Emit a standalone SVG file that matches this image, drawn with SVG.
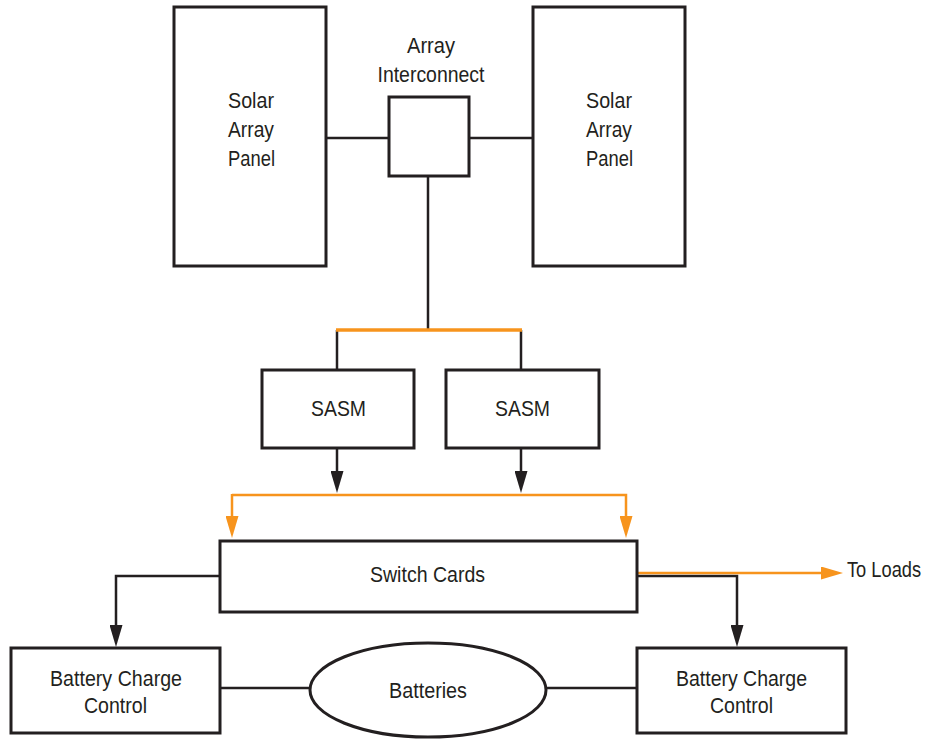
<svg xmlns="http://www.w3.org/2000/svg" width="930" height="740" viewBox="0 0 930 740">
  <style>
    .box { fill: #ffffff; stroke: #231f20; stroke-width: 3; }
    .wire { fill: none; stroke: #231f20; stroke-width: 2.5; }
    .bus { fill: none; stroke: #f7941d; stroke-width: 2.5; }
    .label { font-family: "Liberation Sans", Arial, sans-serif; font-size: 22px; fill: #231f20; text-anchor: middle; }
  </style>
  <defs>
    <marker id="arrow-dark" markerUnits="userSpaceOnUse" markerWidth="22" markerHeight="13" viewBox="0 0 22 13" refX="14" refY="6.5" orient="auto">
      <path d="M0,0 L22,6.5 L0,13 Z" fill="#231f20"/>
    </marker>
    <marker id="arrow-orange" markerUnits="userSpaceOnUse" markerWidth="22" markerHeight="13" viewBox="0 0 22 13" refX="14" refY="6.5" orient="auto">
      <path d="M0,0 L22,6.5 L0,13 Z" fill="#f7941d"/>
    </marker>
  </defs>

  <rect width="930" height="740" fill="#ffffff"/>

  <!-- connectors -->
  <g id="connectors">
    <line class="wire" x1="327" y1="138" x2="389" y2="138"/>
    <line class="wire" x1="469" y1="138" x2="533" y2="138"/>
    <line class="wire" x1="428" y1="176" x2="428" y2="330"/>
    <line class="wire" x1="337" y1="330" x2="337" y2="370"/>
    <line class="wire" x1="521" y1="330" x2="521" y2="370"/>
    <line class="bus" x1="336" y1="330" x2="522" y2="330" style="stroke-width:3.5"/>
    <line class="wire" x1="337" y1="448" x2="337" y2="485" marker-end="url(#arrow-dark)"/>
    <line class="wire" x1="521" y1="448" x2="521" y2="485" marker-end="url(#arrow-dark)"/>
    <path class="bus" d="M232,495 H626 V530" marker-end="url(#arrow-orange)"/>
    <line class="bus" x1="232" y1="494" x2="232" y2="530" marker-end="url(#arrow-orange)"/>
    <path class="wire" d="M220,576 H116 V639" marker-end="url(#arrow-dark)"/>
    <path class="wire" d="M637,576 H737 V639" marker-end="url(#arrow-dark)"/>
    <line class="bus" x1="637" y1="573" x2="835" y2="573" marker-end="url(#arrow-orange)"/>
    <line class="wire" x1="220" y1="688" x2="310" y2="688"/>
    <line class="wire" x1="546" y1="688" x2="637" y2="688"/>
  </g>

  <g id="solar-left">
    <rect class="box" x="174" y="7" width="152" height="259"/>
    <text class="label" x="251" y="108" textLength="46" lengthAdjust="spacingAndGlyphs">Solar</text>
    <text class="label" x="251" y="137" textLength="46" lengthAdjust="spacingAndGlyphs">Array</text>
    <text class="label" x="251.5" y="166" textLength="47" lengthAdjust="spacingAndGlyphs">Panel</text>
  </g>

  <g id="solar-right">
    <rect class="box" x="533" y="7" width="152" height="259"/>
    <text class="label" x="609" y="108" textLength="46" lengthAdjust="spacingAndGlyphs">Solar</text>
    <text class="label" x="609" y="137" textLength="46" lengthAdjust="spacingAndGlyphs">Array</text>
    <text class="label" x="609.5" y="166" textLength="47" lengthAdjust="spacingAndGlyphs">Panel</text>
  </g>

  <g id="array-interconnect">
    <rect class="box" x="389" y="97" width="80" height="79"/>
    <text class="label" x="431" y="53" textLength="48" lengthAdjust="spacingAndGlyphs">Array</text>
    <text class="label" x="431" y="82" textLength="107" lengthAdjust="spacingAndGlyphs">Interconnect</text>
  </g>

  <g id="sasm-left">
    <rect class="box" x="262" y="370" width="152" height="78"/>
    <text class="label" x="338.5" y="416" textLength="55" lengthAdjust="spacingAndGlyphs">SASM</text>
  </g>

  <g id="sasm-right">
    <rect class="box" x="446" y="370" width="153" height="78"/>
    <text class="label" x="522.5" y="416" textLength="55" lengthAdjust="spacingAndGlyphs">SASM</text>
  </g>

  <g id="switch-cards">
    <rect class="box" x="220" y="541" width="417" height="71"/>
    <text class="label" x="427.5" y="582" textLength="115" lengthAdjust="spacingAndGlyphs">Switch Cards</text>
  </g>

  <g id="battery-charge-left">
    <rect class="box" x="11" y="648" width="209" height="85"/>
    <text class="label" x="116" y="686" textLength="132" lengthAdjust="spacingAndGlyphs">Battery Charge</text>
    <text class="label" x="115.5" y="713" textLength="63" lengthAdjust="spacingAndGlyphs">Control</text>
  </g>

  <g id="batteries">
    <ellipse class="box" cx="428" cy="690" rx="118" ry="47"/>
    <text class="label" x="428" y="698" textLength="78" lengthAdjust="spacingAndGlyphs">Batteries</text>
  </g>

  <g id="battery-charge-right">
    <rect class="box" x="637" y="648" width="209" height="85"/>
    <text class="label" x="741.5" y="686" textLength="131" lengthAdjust="spacingAndGlyphs">Battery Charge</text>
    <text class="label" x="741.5" y="713" textLength="63" lengthAdjust="spacingAndGlyphs">Control</text>
  </g>

  <g id="loads">
    <text class="label" x="0" y="0" transform="translate(847 577) scale(0.83 1)" style="text-anchor:start">To Loads</text>
  </g>
</svg>
